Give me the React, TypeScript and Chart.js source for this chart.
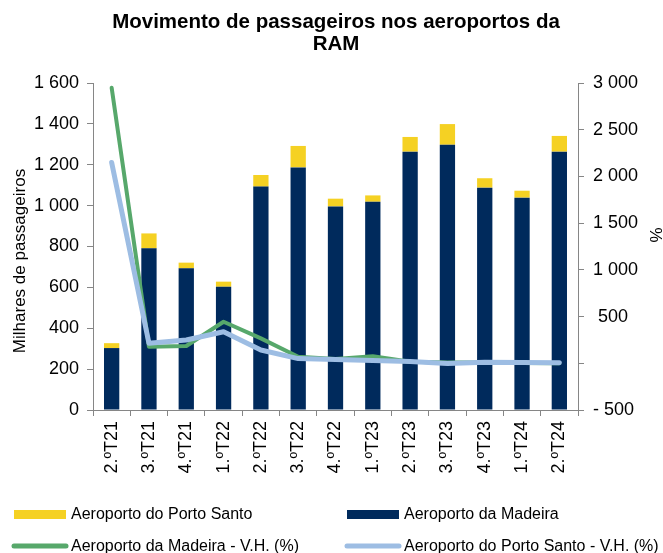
import React, { useEffect, useRef } from "react";
import { Chart, registerables } from "chart.js";

Chart.register(...registerables);

const categories = ["2.ºT21", "3.ºT21", "4.ºT21", "1.ºT22", "2.ºT22", "3.ºT22", "4.ºT22", "1.ºT23", "2.ºT23", "3.ºT23", "4.ºT23", "1.ºT24", "2.ºT24"];
const madeira = [303, 791, 693, 603, 1093, 1187, 996, 1019, 1264, 1298, 1088, 1039, 1264];
const portoSanto = [24, 73, 28, 25, 57, 105, 38, 31, 72, 101, 46, 34, 77];
const madeiraVH = [2950, 178, 185, 445, 267, 70, 45, 75, 16, 9, 9, 2, 1];
const portoSantoVH = [2150, 214, 249, 338, 142, 50, 40, 30, 18, -3, 12, 8, 6];

const titleLines = ["Movimento de passageiros nos aeroportos da", "RAM"];
const yTitle = "Milhares de passageiros";
const y1Title = "%";
const legendLabels = ["Aeroporto do Porto Santo", "Aeroporto da Madeira", "Aeroporto da Madeira - V.H. (%)", "Aeroporto do Porto Santo - V.H. (%)"];

const NAVY = "#002A5C";
const YELLOW = "#F5D123";
const GREEN = "#57A86B";
const LIGHTBLUE = "#9DBDE3";
const AXIS = "#868686";
const FONT = "'Liberation Sans', Arial, sans-serif";

const fmt = (v: number) => {
  const neg = v < 0;
  const s = Math.abs(v).toString().replace(/\B(?=(\d{3})+(?!\d))/g, " ");
  return neg ? "- " + s : s;
};

const customDraw = {
  id: "customDraw",
  afterDraw(chart: any) {
    const ctx = chart.ctx as CanvasRenderingContext2D;
    ctx.save();
    ctx.fillStyle = "#000";
    ctx.textAlign = "center";
    ctx.textBaseline = "alphabetic";
    ctx.font = `bold 20.5px ${FONT}`;
    ctx.fillText(titleLines[0], 336, 28);
    ctx.fillText(titleLines[1], 336, 50);

    ctx.font = `17px ${FONT}`;
    ctx.textBaseline = "middle";
    ctx.save();
    ctx.translate(20, 261);
    ctx.rotate(-Math.PI / 2);
    ctx.fillText(yTitle, 0, 0);
    ctx.restore();
    ctx.save();
    ctx.translate(657, 235);
    ctx.rotate(-Math.PI / 2);
    ctx.fillText(y1Title, 0, 0);
    ctx.restore();

    // legend
    ctx.font = `16px ${FONT}`;
    ctx.textAlign = "left";
    const cols = [14, 347];
    const rows = [514, 546];
    const textOff = 57;
    ctx.fillStyle = YELLOW;
    ctx.fillRect(cols[0], rows[0] - 4, 52, 9);
    ctx.fillStyle = NAVY;
    ctx.fillRect(cols[1], rows[0] - 4, 52, 9);
    ctx.lineCap = "round";
    ctx.lineWidth = 5;
    ctx.strokeStyle = GREEN;
    ctx.beginPath();
    ctx.moveTo(cols[0], rows[1]);
    ctx.lineTo(cols[0] + 52, rows[1]);
    ctx.stroke();
    ctx.strokeStyle = LIGHTBLUE;
    ctx.beginPath();
    ctx.moveTo(cols[1], rows[1]);
    ctx.lineTo(cols[1] + 52, rows[1]);
    ctx.stroke();
    ctx.fillStyle = "#000";
    ctx.fillText(legendLabels[0], cols[0] + textOff, rows[0] + 1);
    ctx.fillText(legendLabels[1], cols[1] + textOff, rows[0] + 1);
    ctx.fillText(legendLabels[2], cols[0] + textOff, rows[1] + 1);
    ctx.fillText(legendLabels[3], cols[1] + textOff, rows[1] + 1);
    ctx.restore();
  },
};

export default function App() {
  const ref = useRef<HTMLCanvasElement | null>(null);
  useEffect(() => {
    if (!ref.current) return;
    const chart = new Chart(ref.current, {
      type: "bar",
      data: {
        labels: categories,
        datasets: [
          {
            type: "line",
            label: legendLabels[3],
            data: portoSantoVH,
            yAxisID: "y1",
            borderColor: LIGHTBLUE,
            backgroundColor: LIGHTBLUE,
            borderWidth: 5,
            pointRadius: 0,
            tension: 0,
            borderCapStyle: "round",
            borderJoinStyle: "round",
            order: 0,
            stack: "l2",
          } as any,
          {
            type: "line",
            label: legendLabels[2],
            data: madeiraVH,
            yAxisID: "y1",
            borderColor: GREEN,
            backgroundColor: GREEN,
            borderWidth: 4,
            pointRadius: 0,
            tension: 0,
            borderCapStyle: "round",
            borderJoinStyle: "round",
            order: 1,
            stack: "l1",
          } as any,
          {
            label: legendLabels[1],
            data: madeira,
            backgroundColor: NAVY,
            yAxisID: "y",
            stack: "s",
            order: 2,
            barPercentage: 0.41,
            categoryPercentage: 1,
          },
          {
            label: legendLabels[0],
            data: portoSanto,
            backgroundColor: YELLOW,
            yAxisID: "y",
            stack: "s",
            order: 3,
            barPercentage: 0.41,
            categoryPercentage: 1,
          },
        ],
      },
      options: {
        responsive: false,
        animation: false,
        devicePixelRatio: 1,
        layout: { padding: { left: 0, right: 0, top: 83, bottom: 73 } },
        plugins: {
          legend: { display: false },
          title: { display: false },
          tooltip: { enabled: false },
        },
        scales: {
          x: {
            stacked: true,
            offset: true,
            grid: { drawOnChartArea: false, offset: true, tickLength: 6, color: AXIS },
            border: { color: AXIS, width: 1 },
            ticks: { color: "#000", font: { size: 18, family: FONT }, maxRotation: 90, minRotation: 90, padding: 5, autoSkip: false },
            afterFit: (s: any) => { s.height = 70; },
          },
          y: {
            stacked: true,
            position: "left",
            min: 0,
            max: 1600,
            grid: { drawOnChartArea: false, tickLength: 6, color: AXIS },
            border: { color: AXIS, width: 1 },
            ticks: { stepSize: 200, color: "#000", font: { size: 18, family: FONT }, padding: 8, callback: (v: any) => fmt(Number(v)) },
            afterFit: (s: any) => { s.width = 93; },
          },
          y1: {
            stacked: false,
            position: "right",
            min: -500,
            max: 3000,
            grid: { drawOnChartArea: false, tickLength: 6, color: AXIS },
            border: { color: AXIS, width: 1 },
            ticks: {
              stepSize: 500,
              color: "#000",
              font: { size: 18, family: FONT },
              padding: 9,
              callback: (v: any) => {
                const n = Number(v);
                if (n === 0) return "";
                if (n > 0 && n < 1000) return " " + fmt(n);
                return fmt(n);
              },
            },
            afterFit: (s: any) => { s.width = 85; },
          },
        },
      },
      plugins: [customDraw],
    });
    return () => chart.destroy();
  }, []);
  return (
    <div style={{ position: "fixed", left: 0, top: 0, width: 663, height: 553, background: "#fff" }}>
      <canvas ref={ref} width={663} height={553} style={{ display: "block" }} />
    </div>
  );
}
